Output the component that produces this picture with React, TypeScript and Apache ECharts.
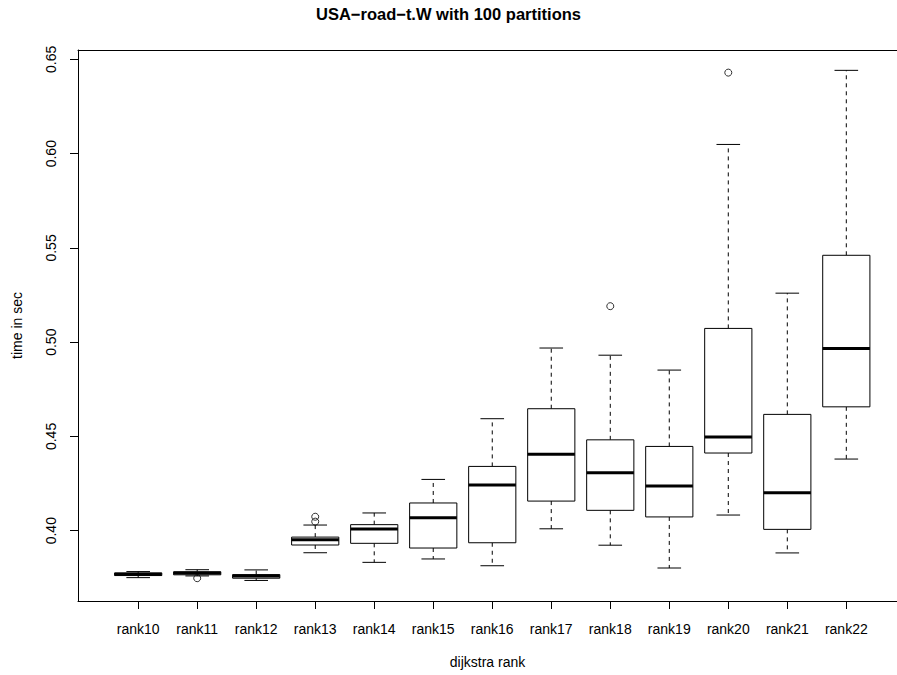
import React, { useEffect, useRef } from "react";
import * as echarts from "echarts";

// Dijkstra rank categories
const ranks = [
  "rank10", "rank11", "rank12", "rank13", "rank14", "rank15", "rank16",
  "rank17", "rank18", "rank19", "rank20", "rank21", "rank22",
];

// Five-number summaries per rank (lower whisker, Q1, median, Q3, upper whisker), seconds
const whiskerLow = [0.3751, 0.3760, 0.3736, 0.3883, 0.3832, 0.3850, 0.3814, 0.4010, 0.3923, 0.3802, 0.4083, 0.3882, 0.4380];
const q1 = [0.3762, 0.3766, 0.3748, 0.3924, 0.3933, 0.3908, 0.3936, 0.4157, 0.4108, 0.4073, 0.4412, 0.4007, 0.4657];
const median = [0.3769, 0.3775, 0.3759, 0.3952, 0.4009, 0.4069, 0.4242, 0.4406, 0.4307, 0.4237, 0.4497, 0.4201, 0.4967];
const q3 = [0.3776, 0.3782, 0.3767, 0.3966, 0.4032, 0.4147, 0.4341, 0.4647, 0.4482, 0.4447, 0.5073, 0.4617, 0.5461];
const whiskerHigh = [0.3783, 0.3793, 0.3792, 0.4030, 0.4094, 0.4272, 0.4594, 0.4969, 0.4931, 0.4852, 0.6049, 0.5260, 0.6442];

// Outliers: rank name and value
const outlierRanks = ["rank11", "rank13", "rank13", "rank18", "rank20"];
const outlierValues = [0.3748, 0.4074, 0.4048, 0.5191, 0.6430];

// Y tick values
const yTicks = [0.40, 0.45, 0.50, 0.55, 0.60, 0.65];

export default function App() {
  const ref = useRef<HTMLDivElement>(null);

  useEffect(() => {
    if (!ref.current) return;
    const chart = echarts.init(ref.current, undefined, { renderer: "svg" });

    const boxData = ranks.map((_, i) => [
      i + 1, whiskerLow[i], q1[i], median[i], q3[i], whiskerHigh[i],
    ]);
    const outData = outlierRanks.map((r, i) => [ranks.indexOf(r) + 1, outlierValues[i]]);
    const xTicks = ranks.map((_, i) => i + 1);

    const font = "'Liberation Sans', Arial, Helvetica, sans-serif";
    const frameLine = { show: true, lineStyle: { color: "#000", width: 1 } };

    chart.setOption({
      animation: false,
      backgroundColor: "#ffffff",
      title: {
        text: "USA\u2212road\u2212t.W with 100 partitions",
        left: "center",
        top: 0,
        textStyle: { fontFamily: font, fontSize: 16.5, fontWeight: "bold", color: "#000" },
      },
      grid: {
        left: 78,
        top: 50,
        right: 0,
        height: 551,
        show: false,
        containLabel: false,
      },
      xAxis: [
        {
          type: "value",
          min: -0.02,
          max: 13.859,
          name: "dijkstra rank",
          nameLocation: "middle",
          nameGap: 54,
          nameTextStyle: { fontFamily: font, fontSize: 14, color: "#000" },
          splitLine: { show: false },
          axisLine: { ...frameLine, onZero: false },
          axisTick: { show: true, length: 8, customValues: xTicks, lineStyle: { color: "#000" } },
          axisLabel: {
            customValues: xTicks,
            margin: 21,
            fontFamily: font,
            fontSize: 14,
            color: "#000",
            formatter: (v: number) => ranks[Math.round(v) - 1] ?? "",
          },
        },
        {
          type: "value",
          position: "top",
          min: -0.02,
          max: 13.859,
          splitLine: { show: false },
          axisLine: { ...frameLine, onZero: false },
          axisTick: { show: false },
          axisLabel: { show: false },
        },
      ],
      yAxis: {
        type: "value",
        min: 0.3627,
        max: 0.655,
        name: "time in sec",
        nameLocation: "middle",
        nameGap: 54,
        nameRotate: 90,
        nameTextStyle: { fontFamily: font, fontSize: 14, color: "#000" },
        splitLine: { show: false },
        axisLine: { ...frameLine, onZero: false },
        axisTick: { show: true, length: 8, customValues: yTicks, lineStyle: { color: "#000" } },
        axisLabel: {
          customValues: yTicks,
          rotate: 90,
          margin: 20,
          fontFamily: font,
          fontSize: 14,
          color: "#000",
          formatter: (v: number) => v.toFixed(2),
        },
      },
      series: [
        {
          type: "custom",
          data: boxData,
          encode: { x: 0, y: [1, 2, 3, 4, 5] },
          renderItem: (_params: any, api: any) => {
            const x = api.value(0);
            const pLo = api.coord([x, api.value(1)]);
            const pQ1 = api.coord([x, api.value(2)]);
            const pMed = api.coord([x, api.value(3)]);
            const pQ3 = api.coord([x, api.value(4)]);
            const pHi = api.coord([x, api.value(5)]);
            const boxHalf = api.size([0.8, 0])[0] / 2;
            const stapleHalf = api.size([0.4, 0])[0] / 2;
            const cx = pMed[0];
            const dashed = { stroke: "#000", lineWidth: 1, lineDash: [4, 4] };
            const solid = { stroke: "#000", lineWidth: 1 };
            return {
              type: "group",
              children: [
                { type: "line", shape: { x1: cx, y1: pQ3[1], x2: cx, y2: pHi[1] }, style: dashed },
                { type: "line", shape: { x1: cx, y1: pQ1[1], x2: cx, y2: pLo[1] }, style: dashed },
                { type: "line", shape: { x1: cx - stapleHalf, y1: pHi[1], x2: cx + stapleHalf, y2: pHi[1] }, style: solid },
                { type: "line", shape: { x1: cx - stapleHalf, y1: pLo[1], x2: cx + stapleHalf, y2: pLo[1] }, style: solid },
                {
                  type: "rect",
                  shape: { x: cx - boxHalf, y: pQ3[1], width: boxHalf * 2, height: pQ1[1] - pQ3[1] },
                  style: { fill: "#fff", stroke: "#000", lineWidth: 1 },
                },
                {
                  type: "line",
                  shape: { x1: cx - boxHalf, y1: pMed[1], x2: cx + boxHalf, y2: pMed[1] },
                  style: { stroke: "#000", lineWidth: 3 },
                },
              ],
            };
          },
          z: 2,
        },
        {
          type: "scatter",
          data: outData,
          symbol: "circle",
          symbolSize: 7,
          itemStyle: { color: "rgba(255,255,255,0)", borderColor: "#000", borderWidth: 1 },
          z: 3,
        },
      ],
    });

    return () => chart.dispose();
  }, []);

  return <div ref={ref} style={{ width: 897, height: 675, position: "absolute", left: 0, top: 0 }} />;
}
